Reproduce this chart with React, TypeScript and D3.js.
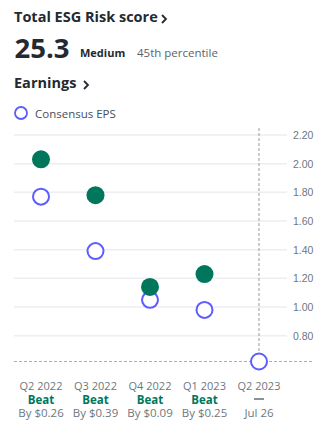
import React from "react";
import * as d3 from "d3";

const quarters = ["Q2 2022", "Q3 2022", "Q4 2022", "Q1 2023", "Q2 2023"];
const actualEPS: (number | null)[] = [2.03, 1.78, 1.14, 1.23, null];
const consensusEPS = [1.77, 1.39, 1.05, 0.98, 0.62];
const results = ["Beat", "Beat", "Beat", "Beat", "—"];
const subLabels = ["By $0.26", "By $0.39", "By $0.09", "By $0.25", "Jul 26"];
const yTicks = [0.8, 1.0, 1.2, 1.4, 1.6, 1.8, 2.0, 2.2];

const GREEN = "#00775c";
const BLUE = "#5c5cff";
const FONT = "'Open Sans', 'Noto Sans', sans-serif";

export default function App() {
  const W = 323, H = 424;
  const x = d3.scalePoint<string>().domain(quarters).range([41, 259]);
  const y = d3.scaleLinear().domain([0.62, 2.2]).range([361.5, 135]);
  return (
    <svg width={W} height={H} style={{ position: "absolute", left: 0, top: 0, background: "#fff" }} fontFamily={FONT}>
      <text x={14} y={22} fontSize={14.5} fontWeight={700} fill="#232a31">Total ESG Risk score</text>
      <path d="M162,15 L166,19 L162,23" fill="none" stroke="#232a31" strokeWidth={1.8} />
      <text x={14.5} y={58} fontSize={27.5} fontWeight={700} fill="#232a31">25.3</text>
      <text x={80} y={57} fontSize={11} fontWeight={700} fill="#232a31">Medium</text>
      <text x={137} y={57} fontSize={11.5} fill="#5b636a">45th percentile</text>
      <text x={14} y={88} fontSize={14.5} fontWeight={700} fill="#232a31">Earnings</text>
      <path d="M84,81 L88,85 L84,89" fill="none" stroke="#232a31" strokeWidth={1.8} />
      <circle cx={21} cy={113} r={6} fill="none" stroke={BLUE} strokeWidth={1.8} />
      <text x={35} y={117.5} fontSize={11.5} fill="#464e56">Consensus EPS</text>

      {yTicks.map((t) => (
        <g key={t}>
          <line x1={14} x2={287} y1={y(t)} y2={y(t)} stroke="#eeeef2" strokeWidth={1.5} />
          <text x={293} y={y(t) + 4} fontSize={10.5} fill="#6e7780" fontFamily="'Liberation Sans', Arial, sans-serif">{t.toFixed(2)}</text>
        </g>
      ))}
      <line x1={14} x2={313} y1={y(0.62)} y2={y(0.62)} stroke="#aab0b6" strokeWidth={1} strokeDasharray="3,2" />
      <line x1={x("Q2 2023")!} x2={x("Q2 2023")!} y1={128} y2={y(0.62)} stroke="#999" strokeWidth={1} strokeDasharray="3,2" />

      {quarters.map((q, i) => (
        <g key={q}>
          <circle cx={x(q)!} cy={y(consensusEPS[i])} r={8} fill="#fff" stroke={BLUE} strokeWidth={2} />
          {actualEPS[i] !== null && (
            <circle cx={x(q)!} cy={y(actualEPS[i] as number)} r={9} fill={GREEN} />
          )}
          <text x={x(q)!} y={390} textAnchor="middle" fontSize={11} fill="#6e7780">{q}</text>
          {results[i] === "Beat" ? (
            <text x={x(q)!} y={403.5} textAnchor="middle" fontSize={11.5} fontWeight={700} fill={GREEN}>{results[i]}</text>
          ) : (
            <line x1={x(q)! - 5} x2={x(q)! + 5} y1={399} y2={399} stroke="#8a9199" strokeWidth={2} />
          )}
          <text x={x(q)!} y={417} textAnchor="middle" fontSize={11.5} fill="#6e7780">{subLabels[i]}</text>
        </g>
      ))}
    </svg>
  );
}
